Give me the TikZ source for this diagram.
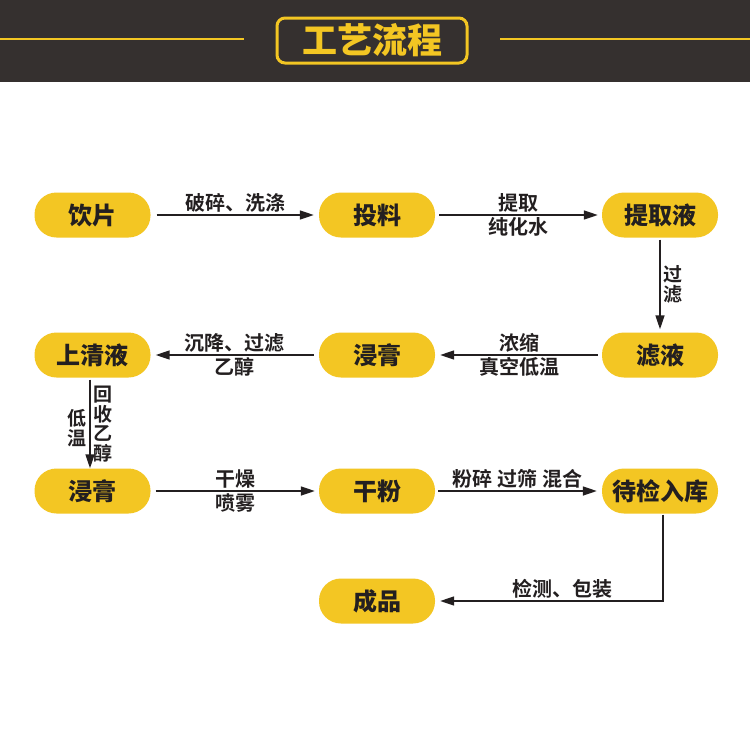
\documentclass[tikz,border=0pt]{standalone}
\usepackage{fontspec}
\usetikzlibrary{arrows.meta}
\newfontfamily\cjk{Noto Sans CJK SC}[BoldFont={Noto Sans CJK SC Black}]
\newfontfamily\cjkl{Noto Sans CJK SC}[BoldFont={Noto Sans CJK SC Bold}]
\definecolor{hdr}{HTML}{35302F}
\definecolor{yel}{HTML}{F3C623}
\definecolor{ink}{HTML}{231F20}
\tikzset{
  pill/.style={fill=yel, rounded corners=22pt, minimum width=116pt, minimum height=45pt, inner sep=0pt,
    font=\cjk\bfseries\fontsize{24}{26}\selectfont, text=ink},
  flow/.style={draw=ink, line width=1.6pt, -{Triangle[length=14pt,width=9pt]}},
  lbl/.style={font=\cjkl\bfseries\fontsize{20}{22}\selectfont, text=ink, inner sep=0pt},
  vlbl/.style={lbl, align=center, font=\cjkl\bfseries\fontsize{19}{19.5}\selectfont}
}
\begin{document}
\begin{tikzpicture}[x=1pt,y=-1pt]
\useasboundingbox (0,0) rectangle (750,750);
\fill[white] (0,0) rectangle (750,750);
% header
\fill[hdr] (0,0) rectangle (750,82);
\draw[yel, line width=2pt] (0,39) -- (244,39);
\draw[yel, line width=2pt] (500,39) -- (750,39);
\node[draw=yel, line width=3pt, fill=hdr, rounded corners=8pt, minimum width=190pt, minimum height=45pt,
  text=yel, font=\cjk\bfseries\fontsize{35}{37}\selectfont, inner sep=0pt] (title) at (372,40.5) {工艺流程};
% nodes
\node[pill] (yp) at (92.5,215) {饮片};
\node[pill] (tl) at (377,215) {投料};
\node[pill] (tqy) at (660,215) {提取液};
\node[pill] (sqy) at (92.5,355) {上清液};
\node[pill] (jg1) at (377,355) {浸膏};
\node[pill] (ly) at (660,355) {滤液};
\node[pill] (jg2) at (92.5,491) {浸膏};
\node[pill] (gf) at (377,491) {干粉};
\node[pill] (djrk) at (660,491) {待检入库};
\node[pill] (cp) at (377,601) {成品};
\coordinate (corner) at (663,601);
% connectors
\draw[flow] ([xshift=6pt]yp.east) -- node[lbl, above=1.5pt] {破碎、洗涤} ([xshift=-5pt]tl.west);
\draw[flow] ([xshift=4pt]tl.east) -- node[lbl, above=1.5pt] {提取} node[lbl, below=1.5pt] {纯化水} ([xshift=-4pt]tqy.west);
\draw[flow] ([yshift=-2pt]tqy.south) -- node[vlbl, right=3pt] {过\\滤} ([yshift=3pt]ly.north);
\draw[flow] ([xshift=-4pt]ly.west) -- node[lbl, above=1.5pt] {浓缩} node[lbl, below=1.5pt] {真空低温} ([xshift=5pt]jg1.east);
\draw[flow] ([xshift=-5pt]jg1.west) -- node[lbl, above=1.5pt] {沉降、过滤} node[lbl, below=1.5pt] {乙醇} ([xshift=5pt]sqy.east);
\draw[flow] ([xshift=-2.5pt,yshift=-2pt]sqy.south) -- node[vlbl, left=3pt, yshift=-4pt] {低\\温} node[vlbl, right=3pt] {回\\收\\乙\\醇} ([xshift=-2.5pt,yshift=0pt]jg2.north);
\draw[flow] ([xshift=5pt]jg2.east) -- node[lbl, above=1.5pt] {干燥} node[lbl, below=1.5pt] {喷雾} ([xshift=-4pt]gf.west);
\draw[flow] ([xshift=3pt]gf.east) -- node[lbl, above=1.5pt] {粉碎 过筛 混合} ([xshift=-5pt]djrk.west);
\draw[flow] ([xshift=3pt,yshift=-1pt]djrk.south) -- (corner) -- node[lbl, above=1.5pt, pos=0.45] {检测、包装} ([xshift=5pt]cp.east);
\end{tikzpicture}
\end{document}
